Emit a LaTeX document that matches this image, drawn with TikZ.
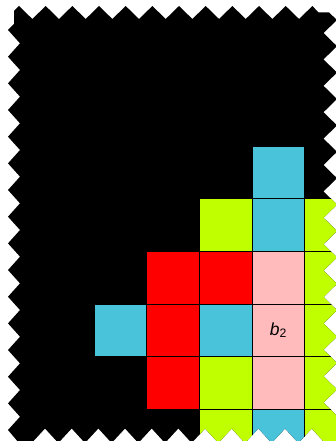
\documentclass[tikz,border=0pt]{standalone}
\usepackage{fontspec}
\setmainfont{Liberation Sans}
\definecolor{cb}{HTML}{48C3DA}
\definecolor{cg}{HTML}{BFFF00}
\definecolor{cr}{HTML}{FF0000}
\definecolor{cp}{HTML}{FFBBBB}
\tikzset{cell/.style={draw=black, line width=1.2pt}}
\begin{document}
\begin{tikzpicture}[x=1pt,y=-1pt]
\useasboundingbox (0,0) rectangle (336,441);
\clip (0,0) rectangle (336,441);
\fill[white] (0,0) rectangle (336,441);
\begin{scope}
\clip (14,24) -- (14,11)
  \foreach \k in {0,...,10} { -- ({19+26.67*\k},6) -- ({32.33+26.67*\k},19) }
  -- (312.4,6) -- (318.5,12.5) -- (329,12.5) -- (337,20)
  \foreach \k in {0,...,14} { -- (323.5,{33+26.4*\k}) -- (337,{46.2+26.4*\k}) }
  -- (338,443)
  \foreach \k in {0,...,10} { -- ({325-26.67*\k},443) -- ({311.7-26.67*\k},428.5) }
  -- (31.7,443) -- (19,443) -- (8,430)
  \foreach \k in {14,13,...,0} { -- (20,{43.33+26.67*\k}) -- (8,{30+26.67*\k}) }
  -- cycle;
\fill[black] (0,0) rectangle (340,445);
\def\s{52.7}
\foreach \c/\r/\col in {3/0/cb, 2/1/cg, 3/1/cb, 4/1/cg, 1/2/cr, 2/2/cr, 3/2/cp, 4/2/cg,
  0/3/cb, 1/3/cr, 2/3/cb, 3/3/cp, 4/3/cg, 1/4/cr, 2/4/cg, 3/4/cp, 4/4/cg, 2/5/cg, 3/5/cb, 4/5/cg}
  \filldraw[cell, fill=\col] ({94+\s*\c},{146+\s*\r}) rectangle ({94+\s*(\c+1)},{146+\s*(\r+1)});
\node[font=\fontsize{17.5}{20}\selectfont, inner sep=0pt] (lbl) at (278.5,330) {\textit{b}\textsubscript{2}};
\end{scope}
\end{tikzpicture}
\end{document}
